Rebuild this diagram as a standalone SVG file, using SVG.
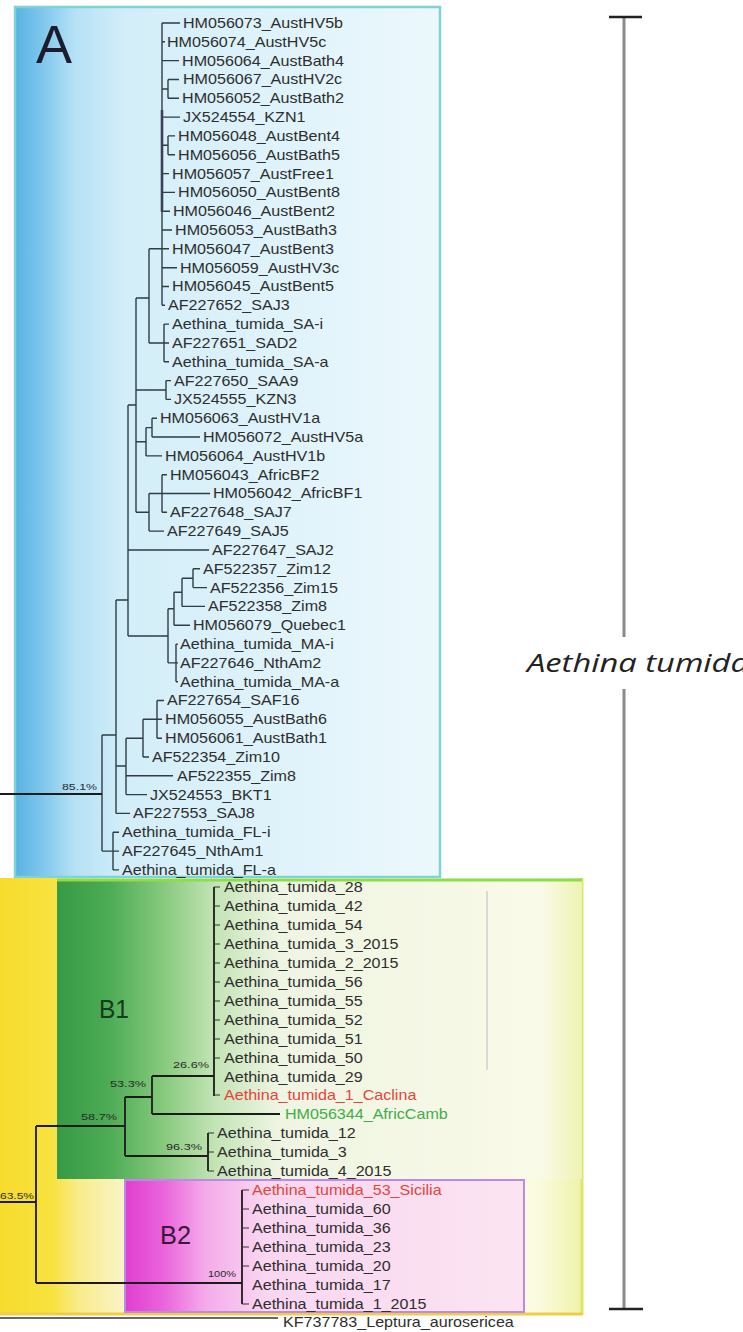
<svg xmlns="http://www.w3.org/2000/svg" width="743" height="1332" viewBox="0 0 743 1332">
<defs>
<linearGradient id="gA" x1="15" y1="0" x2="440" y2="0" gradientUnits="userSpaceOnUse">
<stop offset="0" stop-color="#58b3e2"/><stop offset="0.06" stop-color="#7cc5ec"/><stop offset="0.14" stop-color="#b5e1f6"/><stop offset="0.26" stop-color="#d3eef9"/><stop offset="1" stop-color="#ecf8fc"/>
</linearGradient>
<linearGradient id="gB" x1="0" y1="0" x2="583" y2="0" gradientUnits="userSpaceOnUse">
<stop offset="0" stop-color="#f6dc2c"/><stop offset="0.09" stop-color="#f8e23e"/><stop offset="0.13" stop-color="#f8eb86"/><stop offset="0.22" stop-color="#faf5cc"/><stop offset="0.4" stop-color="#fcfbe8"/><stop offset="0.92" stop-color="#fbfbe2"/><stop offset="1" stop-color="#eef3a8"/>
</linearGradient>
<linearGradient id="gB1" x1="57" y1="0" x2="583" y2="0" gradientUnits="userSpaceOnUse">
<stop offset="0" stop-color="#379a46"/><stop offset="0.1" stop-color="#4dac55"/><stop offset="0.2" stop-color="#86c97c"/><stop offset="0.3" stop-color="#c3e4b5"/><stop offset="0.42" stop-color="#eef5e2"/><stop offset="0.92" stop-color="#fafae8"/><stop offset="1" stop-color="#eef3b0"/>
</linearGradient>
<linearGradient id="gB2" x1="125" y1="0" x2="524" y2="0" gradientUnits="userSpaceOnUse">
<stop offset="0" stop-color="#e03ed0"/><stop offset="0.1" stop-color="#ea66dc"/><stop offset="0.2" stop-color="#f4aaea"/><stop offset="0.35" stop-color="#f9d6f1"/><stop offset="1" stop-color="#fbe4f1"/>
</linearGradient>
<style>
.lbl text{font-family:"Liberation Sans",Arial,sans-serif;font-size:14px;fill:#2e2e2e}
.red{fill:#e5443c !important}
.grn{fill:#3fae48 !important}
.bs{font-family:"Liberation Sans",Arial,sans-serif;font-size:8.5px;fill:#2a2a2a}
.tA{stroke:#2f3d45;stroke-width:1.4;fill:none}
.tB{stroke:#1c1c1c;stroke-width:1.8;fill:none}
</style>
</defs>
<rect width="743" height="1332" fill="#ffffff"/>

<g id="panelA">
<rect x="15" y="7" width="425" height="870" fill="url(#gA)" stroke="#7ed2da" stroke-width="2.5"/>
<text x="36" y="63" font-family="Liberation Sans,Arial,sans-serif" font-size="54" fill="#1c1c2a">A</text>
</g>

<g id="panelB">
<rect x="0" y="878" width="582" height="437" fill="url(#gB)"/>
<line x1="582" y1="878" x2="582" y2="1315" stroke="#dbe86a" stroke-width="3"/>
<line x1="0" y1="1314" x2="583" y2="1314" stroke="#f2cc48" stroke-width="3"/>
</g>
<g id="panelB1">
<rect x="57" y="879" width="525" height="300" fill="url(#gB1)"/>
<line x1="57" y1="880" x2="582" y2="880" stroke="#8ade48" stroke-width="3"/>
<line x1="487" y1="891" x2="487" y2="1070" stroke="#bdbdbd" stroke-width="1"/>
<text x="99" y="1018" font-family="Liberation Sans,Arial,sans-serif" font-size="25" fill="#173a1c" textLength="30" lengthAdjust="spacingAndGlyphs">B1</text>
</g>
<g id="panelB2">
<rect x="125" y="1180" width="399" height="132" fill="url(#gB2)" stroke="#bb8ae6" stroke-width="2"/>
<text x="160" y="1244" font-family="Liberation Sans,Arial,sans-serif" font-size="25" fill="#3a1838" textLength="31" lengthAdjust="spacingAndGlyphs">B2</text>
</g>

<g id="connectors">
<path class="tA" d="M162 23V305.3M162 23H180M162 41.8H165M162 60.6H179M162 89H168M168 79.5V98.3M168 79.5H179M168 98.3H179M162 117.1H180M162 145.3H168M168 135.9V154.7M168 135.9H175M168 154.7H175M162 173.6H169M162 192.4H175M162 211.2H170M162 230H172M162 248.8H169M162 267.7H177M162 286.5H169M162 305.3H165M149 248.8H162M164 324.1V361.8M164 324.1H169M164 343H169M164 361.8H169M149 343H164M149 248.8V343M136 298H149M166 380.6V399.4M166 380.6H171M166 399.4H171M136 390H166M152 418.2V437M152 418.2H157M152 437H200M146 427.6V455.9M146 427.6H152M146 455.9H162M136 441.7H146M162 474.7V512.3M162 474.7H167M162 493.5H210M162 512.3H167M149 493.5V531.1M149 493.5H162M149 531.1H164M136 512.3H149M136 298V512.3M128 405H136M128 550H209M193 568.8V587.6M193 568.8H200M193 587.6H207M182 578.2V606.4M182 578.2H193M182 606.4H205M174 592.3V625.2M174 592.3H182M174 625.2H190M176 644.1V681.7M176 644.1H178M176 662.9H178M176 681.7H178M168 608.8V662.9M168 608.8H174M168 662.9H176M128 636H168M128 405V636M116 600H128M157 700.5V738.2M157 700.5H164M157 719.3H162M157 738.2H162M143 719.3V757M143 719.3H157M143 757H149M126 738.2V794.6M126 738.2H143M126 775.8H173M126 794.6H147M116 766H126M116 813.4H130M116 600V813.4M102 735H116M113 832.2V869.9M113 832.2H119M113 851.1H119M113 869.9H119M102 851.1H113M102 735V851.1"/>
<path d="M162 110V212" stroke="#3b4058" stroke-width="2.6" fill="none"/>
<path d="M0 794H102" stroke="#1c1c1c" stroke-width="2" fill="none"/>
<path class="tB" d="M0 1202H36M36 1126V1283M36 1126H125M125 1097V1156M125 1097H152M152 1076V1114M152 1076H214M152 1114H280M214 887V1096M125 1156H208M208 1133V1171M36 1283H242M242 1190V1304"/>
<path stroke="#333" stroke-width="1" fill="none" d="M214 887H220M214 906H220M214 925H220M214 944H220M214 963H220M214 982H220M214 1001H220M214 1020H220M214 1039H220M214 1058H220M214 1095H220M208 1133H214M208 1152H214M208 1171H214M242 1190H249M242 1209H249M242 1228H249M242 1247H249M242 1266H249M242 1304H249"/>
<path d="M0 1318H278" stroke="#333" stroke-width="1.5" fill="none"/>
</g>

<g id="bootstrap">
<text class="bs" x="62" y="790" textLength="35" lengthAdjust="spacingAndGlyphs">85.1%</text>
<text class="bs" x="173" y="1068" textLength="36" lengthAdjust="spacingAndGlyphs">26.6%</text>
<text class="bs" x="110" y="1087" textLength="36" lengthAdjust="spacingAndGlyphs">53.3%</text>
<text class="bs" x="81" y="1120" textLength="36" lengthAdjust="spacingAndGlyphs">58.7%</text>
<text class="bs" x="166" y="1150" textLength="36" lengthAdjust="spacingAndGlyphs">96.3%</text>
<text class="bs" x="0" y="1199" textLength="34" lengthAdjust="spacingAndGlyphs">63.5%</text>
<text class="bs" x="208" y="1277" textLength="28" lengthAdjust="spacingAndGlyphs">100%</text>
</g>

<g class="lbl" transform="scale(1.15 1)">
<g id="tA01"><text x="159.1" y="28">HM056073_AustHV5b</text></g>
<g id="tA02"><text x="145.2" y="46.8">HM056074_AustHV5c</text></g>
<g id="tA03"><text x="158.3" y="65.6">HM056064_AustBath4</text></g>
<g id="tA04"><text x="159.1" y="84.5">HM056067_AustHV2c</text></g>
<g id="tA05"><text x="158.3" y="103.3">HM056052_AustBath2</text></g>
<g id="tA06"><text x="159.1" y="122.1">JX524554_KZN1</text></g>
<g id="tA07"><text x="154.8" y="140.9">HM056048_AustBent4</text></g>
<g id="tA08"><text x="154.8" y="159.7">HM056056_AustBath5</text></g>
<g id="tA09"><text x="149.6" y="178.6">HM056057_AustFree1</text></g>
<g id="tA10"><text x="154.8" y="197.4">HM056050_AustBent8</text></g>
<g id="tA11"><text x="150.4" y="216.2">HM056046_AustBent2</text></g>
<g id="tA12"><text x="152.2" y="235">HM056053_AustBath3</text></g>
<g id="tA13"><text x="149.6" y="253.8">HM056047_AustBent3</text></g>
<g id="tA14"><text x="156.5" y="272.7">HM056059_AustHV3c</text></g>
<g id="tA15"><text x="149.6" y="291.5">HM056045_AustBent5</text></g>
<g id="tA16"><text x="146.1" y="310.3">AF227652_SAJ3</text></g>
<g id="tA17"><text x="149.6" y="329.1">Aethina_tumida_SA-i</text></g>
<g id="tA18"><text x="149.6" y="348">AF227651_SAD2</text></g>
<g id="tA19"><text x="149.6" y="366.8">Aethina_tumida_SA-a</text></g>
<g id="tA20"><text x="151.3" y="385.6">AF227650_SAA9</text></g>
<g id="tA21"><text x="151.3" y="404.4">JX524555_KZN3</text></g>
<g id="tA22"><text x="139.1" y="423.2">HM056063_AustHV1a</text></g>
<g id="tA23"><text x="176.5" y="442">HM056072_AustHV5a</text></g>
<g id="tA24"><text x="143.5" y="460.9">HM056064_AustHV1b</text></g>
<g id="tA25"><text x="147.8" y="479.7">HM056043_AfricBF2</text></g>
<g id="tA26"><text x="185.2" y="498.5">HM056042_AfricBF1</text></g>
<g id="tA27"><text x="147.8" y="517.3">AF227648_SAJ7</text></g>
<g id="tA28"><text x="145.2" y="536.1">AF227649_SAJ5</text></g>
<g id="tA29"><text x="184.3" y="555">AF227647_SAJ2</text></g>
<g id="tA30"><text x="176.5" y="573.8">AF522357_Zim12</text></g>
<g id="tA31"><text x="182.6" y="592.6">AF522356_Zim15</text></g>
<g id="tA32"><text x="180.9" y="611.4">AF522358_Zim8</text></g>
<g id="tA33"><text x="167.8" y="630.2">HM056079_Quebec1</text></g>
<g id="tA34"><text x="156.5" y="649.1">Aethina_tumida_MA-i</text></g>
<g id="tA35"><text x="156.5" y="667.9">AF227646_NthAm2</text></g>
<g id="tA36"><text x="156.5" y="686.7">Aethina_tumida_MA-a</text></g>
<g id="tA37"><text x="145.2" y="705.5">AF227654_SAF16</text></g>
<g id="tA38"><text x="143.5" y="724.3">HM056055_AustBath6</text></g>
<g id="tA39"><text x="143.5" y="743.2">HM056061_AustBath1</text></g>
<g id="tA40"><text x="132.2" y="762">AF522354_Zim10</text></g>
<g id="tA41"><text x="153.9" y="780.8">AF522355_Zim8</text></g>
<g id="tA42"><text x="130.4" y="799.6">JX524553_BKT1</text></g>
<g id="tA43"><text x="115.7" y="818.4">AF227553_SAJ8</text></g>
<g id="tA44"><text x="106.1" y="837.2">Aethina_tumida_FL-i</text></g>
<g id="tA45"><text x="106.1" y="856.1">AF227645_NthAm1</text></g>
<g id="tA46"><text x="106.1" y="874.9">Aethina_tumida_FL-a</text></g>

<g id="tB00"><text x="194.8" y="892">Aethina_tumida_28</text></g>
<g id="tB01"><text x="194.8" y="911">Aethina_tumida_42</text></g>
<g id="tB02"><text x="194.8" y="930">Aethina_tumida_54</text></g>
<g id="tB03"><text x="194.8" y="949">Aethina_tumida_3_2015</text></g>
<g id="tB04"><text x="194.8" y="968">Aethina_tumida_2_2015</text></g>
<g id="tB05"><text x="194.8" y="987">Aethina_tumida_56</text></g>
<g id="tB06"><text x="194.8" y="1006">Aethina_tumida_55</text></g>
<g id="tB07"><text x="194.8" y="1025">Aethina_tumida_52</text></g>
<g id="tB08"><text x="194.8" y="1044">Aethina_tumida_51</text></g>
<g id="tB09"><text x="194.8" y="1063">Aethina_tumida_50</text></g>
<g id="tB10"><text x="194.8" y="1082">Aethina_tumida_29</text></g>
<g id="tB11"><text class="red" x="194.8" y="1100">Aethina_tumida_1_Caclina</text></g>
<g id="tB12"><text class="grn" x="247.8" y="1119">HM056344_AfricCamb</text></g>
<g id="tB13"><text x="188.7" y="1138">Aethina_tumida_12</text></g>
<g id="tB14"><text x="188.7" y="1157">Aethina_tumida_3</text></g>
<g id="tB15"><text x="188.7" y="1176">Aethina_tumida_4_2015</text></g>
<g id="tB16"><text class="red" x="219.1" y="1195">Aethina_tumida_53_Sicilia</text></g>
<g id="tB17"><text x="219.1" y="1214">Aethina_tumida_60</text></g>
<g id="tB18"><text x="219.1" y="1233">Aethina_tumida_36</text></g>
<g id="tB19"><text x="219.1" y="1252">Aethina_tumida_23</text></g>
<g id="tB20"><text x="219.1" y="1271">Aethina_tumida_20</text></g>
<g id="tB21"><text x="219.1" y="1290">Aethina_tumida_17</text></g>
<g id="tB22"><text x="219.1" y="1309">Aethina_tumida_1_2015</text></g>
<g id="tOut"><text x="246.1" y="1327">KF737783_Leptura_aurosericea</text></g>
</g>

<g id="speciesBracket">
<line x1="624" y1="17" x2="624" y2="637" stroke="#8a8a8a" stroke-width="3"/>
<line x1="624" y1="689" x2="624" y2="1309" stroke="#8a8a8a" stroke-width="3"/>
<line x1="609" y1="17" x2="642" y2="17" stroke="#222" stroke-width="2.5"/>
<line x1="609" y1="1309" x2="643" y2="1309" stroke="#222" stroke-width="2.5"/>
<text x="527" y="672" font-family="'Open Sans','DejaVu Sans',sans-serif" font-style="italic" font-size="26" fill="#222" textLength="222" lengthAdjust="spacingAndGlyphs">Aethina tumida</text>
</g>
</svg>
